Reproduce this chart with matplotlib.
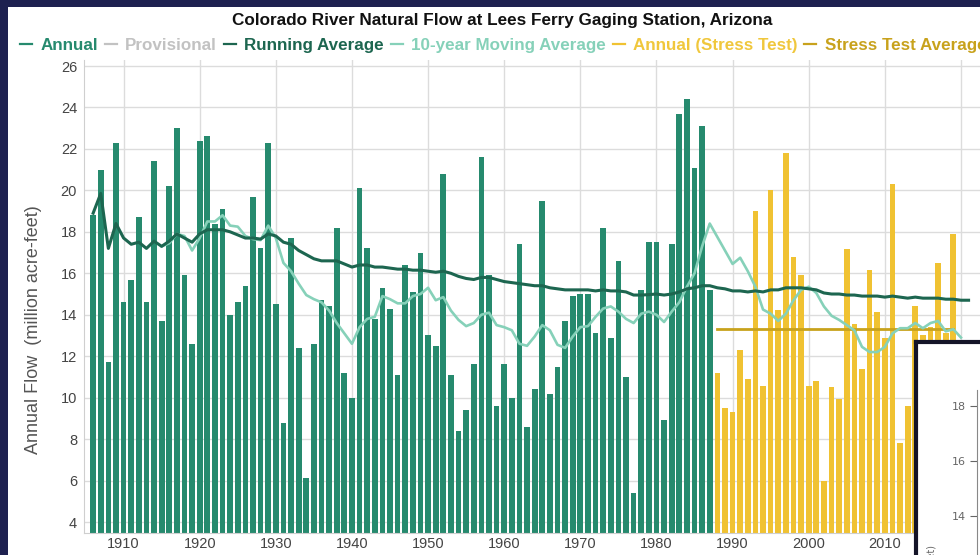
import numpy as np
import matplotlib
matplotlib.use("Agg")
import matplotlib.pyplot as plt
from matplotlib.lines import Line2D
from matplotlib.patches import Rectangle
from matplotlib.font_manager import FontProperties

# ---------------- data ----------------
hist_start = 1906
hist_flow = [18.8, 21.0, 11.7, 22.3, 14.6, 15.7, 18.7, 14.6, 21.4, 13.7,
             20.2, 23.0, 15.9, 12.6, 22.4, 22.6, 18.4, 19.1, 14.0, 14.6,
             15.4, 19.7, 17.2, 22.3, 14.5, 8.8, 17.7, 12.4, 6.1, 12.6,
             14.7, 14.4, 18.2, 11.2, 10.0, 20.1, 17.2, 13.8, 15.3, 14.3,
             11.1, 16.4, 15.1, 17.0, 13.0, 12.5, 20.8, 11.1, 8.4, 9.4,
             11.6, 21.6, 15.9, 9.6, 11.6, 10.0, 17.4, 8.6, 10.4, 19.5,
             10.2, 11.5, 13.7, 14.9, 15.0, 15.0, 13.1, 18.2, 12.9, 16.6,
             11.0, 5.4, 15.2, 17.5, 17.5, 8.9, 17.4, 23.7, 24.4, 21.1,
             23.1, 15.2]

stress_start = 1988
stress_flow = [11.2, 9.5, 9.3, 12.3, 10.9, 19.0, 10.55, 20.0, 14.25, 21.8,
               16.8, 15.9, 10.55, 10.8, 6.0, 10.5, 9.95, 17.15, 13.55, 11.4,
               16.15, 14.15, 12.9, 20.3, 7.8, 9.6, 14.4, 13.0, 13.4, 16.5,
               13.1, 17.9]

run_start = 1906
running_avg = [18.9, 19.85, 17.2, 18.4, 17.7, 17.4, 17.5, 17.2, 17.55, 17.3,
               17.55, 17.9, 17.7, 17.5, 17.9, 18.1, 18.1, 18.1, 18.0, 17.85,
               17.7, 17.7, 17.65, 17.9, 17.8, 17.5, 17.4, 17.1, 16.9, 16.7,
               16.6, 16.6, 16.6, 16.45, 16.3, 16.4, 16.4, 16.3, 16.3, 16.25,
               16.2, 16.2, 16.15, 16.15, 16.1, 16.05, 16.1, 16.0, 15.85, 15.75,
               15.7, 15.8, 15.8, 15.7, 15.6, 15.55, 15.5, 15.45, 15.4, 15.4,
               15.3, 15.25, 15.2, 15.2, 15.2, 15.2, 15.15, 15.2, 15.15, 15.15,
               15.1, 14.95, 14.95, 14.97, 15.0, 14.95, 15.0, 15.1, 15.25, 15.3,
               15.4, 15.4, 15.3, 15.25, 15.15, 15.15, 15.1, 15.15, 15.1, 15.2,
               15.2, 15.3, 15.3, 15.3, 15.25, 15.2, 15.05, 15.0, 15.0, 14.95,
               14.95, 14.9, 14.9, 14.9, 14.85, 14.9, 14.85, 14.8, 14.85, 14.8,
               14.8, 14.8, 14.75, 14.75, 14.7, 14.7]

ma_start = 1915
moving_avg = [17.3, 17.45, 17.9, 17.8, 17.1, 17.7, 18.5, 18.5, 18.8, 18.3,
              18.25, 17.8, 17.65, 17.6, 18.3, 17.7, 16.5, 16.1, 15.5, 14.95,
              14.75, 14.6, 14.2, 13.6, 13.1, 12.6, 13.4, 13.8, 13.9, 14.9,
              14.75, 14.55, 14.55, 14.9, 15.0, 15.3, 14.7, 14.85, 14.2, 13.75,
              13.45, 13.6, 14.0, 14.1, 13.5, 13.4, 13.25, 12.6, 12.5, 12.95,
              13.5, 13.25, 12.55, 12.4, 12.95, 13.4, 13.45, 13.9, 14.3, 14.4,
              14.15, 13.8, 13.6, 14.05, 14.15, 14.0, 13.65, 14.15, 14.6, 15.35,
              16.0, 17.3, 18.4, 17.75, 17.1, 16.45, 16.75, 16.1, 15.35, 14.25,
              14.05, 13.7, 14.05, 14.7, 15.2, 15.35, 15.05, 14.4, 13.95, 13.75,
              13.5, 13.25, 12.45, 12.2, 12.2, 12.45, 13.1, 13.35, 13.35, 13.6,
              13.35, 13.6, 13.7, 13.2, 13.3, 12.9]

stress_avg_years = [1988, 2019]
stress_avg_value = 13.3

x_ticks = [1910, 1920, 1930, 1940, 1950, 1960, 1970, 1980, 1990, 2000, 2010, 2020]
y_ticks = [4, 6, 8, 10, 12, 14, 16, 18, 20, 22, 24, 26]
inset_ticks = [14, 16, 18]

title = "Colorado River Natural Flow at Lees Ferry Gaging Station, Arizona"
legend_labels = ["Annual", "Provisional", "Running Average", "10-year Moving Average",
                 "Annual (Stress Test)", "Stress Test Average"]
y_label = "Annual Flow  (million acre-feet)"

# ---------------- styles ----------------
C_GREEN = "#268a6e"
C_PROV = "#c2c2c2"
C_RUN = "#1d6650"
C_MA = "#86d1b9"
C_YEL = "#f0c232"
C_YEL_TXT = "#f0c73c"
C_SAVG = "#c8a21c"
NAVY = "#1e2150"

W, H = 980, 555
fig = plt.figure(figsize=(W / 100, H / 100), dpi=100)
fig.patch.set_facecolor(NAVY)
fig.patches.append(Rectangle((8 / W, 0), 1, (H - 7) / H, transform=fig.transFigure,
                             facecolor="white", edgecolor="none", zorder=-10))

ax = fig.add_axes([84 / W, (H - 533) / H, (W - 84) / W + 0.01, (533 - 60) / H])
ax.set_facecolor("white")

hist_years = np.arange(hist_start, hist_start + len(hist_flow))
stress_years = np.arange(stress_start, stress_start + len(stress_flow))
run_years = np.arange(run_start, run_start + len(running_avg))
ma_years = np.arange(ma_start, ma_start + len(moving_avg))

ax.bar(hist_years, hist_flow, width=0.75, color=C_GREEN, zorder=2)
ax.bar(stress_years, stress_flow, width=0.75, color=C_YEL, zorder=2)
ax.plot(stress_avg_years, [stress_avg_value, stress_avg_value], color=C_SAVG, lw=2, zorder=3)
ax.plot(ma_years, moving_avg, color=C_MA, lw=1.9, zorder=4)
ax.plot(run_years, running_avg, color=C_RUN, lw=2.2, zorder=5)

ax.set_xlim(1904.8, 2022.5 + 0.01 * W / 7.6)
ax.set_ylim(3.47, 26.29)
ax.set_xticks(x_ticks)
ax.set_yticks(y_ticks)
ax.set_axisbelow(True)
ax.grid(True, color="#dcdcdc", lw=1)
for s in ["top", "right"]:
    ax.spines[s].set_visible(False)
for s in ["left", "bottom"]:
    ax.spines[s].set_color("#cfcfcf")
tick_font = FontProperties(family="Liberation Sans", size=10.5)
ax.tick_params(axis="both", length=0, colors="#444444", pad=5)
for lab in ax.get_xticklabels() + ax.get_yticklabels():
    lab.set_fontproperties(tick_font)
ax.tick_params(axis="x", pad=3)

fig.text(33 / W, 1 - 330 / H, y_label, rotation=90, ha="center", va="center",
         fontproperties=FontProperties(family="Liberation Sans", size=13), color="#555555")

fig.text(502 / W, 1 - 20 / H, title, ha="center", va="center",
         fontproperties=FontProperties(family="Liberation Sans", weight="bold", size=12.3),
         color="#111111")

handle_colors = [C_GREEN, C_PROV, C_RUN, C_MA, C_YEL, C_SAVG]
text_colors = [C_GREEN, C_PROV, C_RUN, C_MA, C_YEL_TXT, C_SAVG]
handles = [Line2D([0], [0], color=c, lw=1.6) for c in handle_colors]
leg = fig.legend(handles, legend_labels, loc="center left", bbox_to_anchor=(20 / W, 1 - 45 / H),
                 ncol=6, frameon=False, handlelength=0.7, handletextpad=0.5,
                 columnspacing=0.4, borderaxespad=0, borderpad=0,
                 prop=FontProperties(family="Liberation Sans", weight="bold", size=12.25))
for t, c in zip(leg.get_texts(), text_colors):
    t.set_color(c)

# inset (partially visible overlay chart)
box = fig.add_axes([916 / W, -0.05, 0.2, (H - 342) / H + 0.05])
box.set_facecolor("white")
box.set_xticks([])
box.set_yticks([])
for s in box.spines.values():
    s.set_color("#141428")
    s.set_linewidth(3)
box.set_zorder(6)

ins = fig.add_axes([977 / W, 0, 0.1, (H - 390) / H])
ins.set_zorder(7)
ins.patch.set_alpha(0)
ins.set_ylim(18 + (406 - 390) / 27.5 - (H - 390) / 27.5, 18 + (406 - 390) / 27.5)
ins.set_yticks(inset_ticks)
ins.set_xticks([])
for s in ["top", "right", "bottom"]:
    ins.spines[s].set_visible(False)
ins.spines["left"].set_color("#888888")
ins.tick_params(axis="y", length=5, colors="#666666", labelsize=8, pad=3)
fig.text(931 / W, 1 - 545 / H, "Annual Flow  (million acre-feet)", rotation=90, ha="center",
         va="top", fontsize=7, color="#666666", zorder=8)

fig.savefig("out.png", dpi=100, facecolor=fig.get_facecolor())
